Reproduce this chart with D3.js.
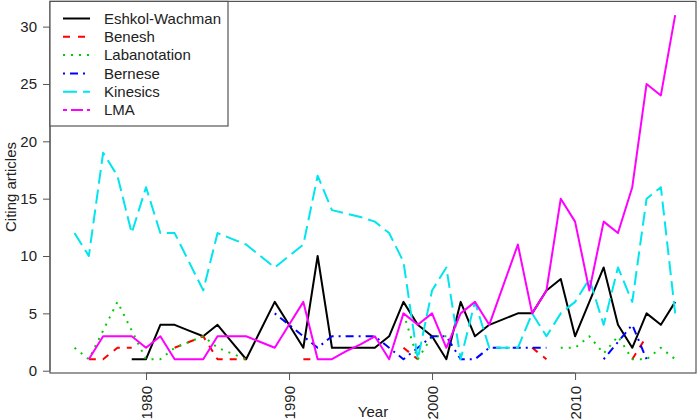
<!DOCTYPE html>
<html>
<head>
<meta charset="utf-8">
<script src="https://cdn.jsdelivr.net/npm/d3@7"></script>
<style>
  html, body { margin: 0; padding: 0; background: #fff; }
  svg { display: block; }
  text { font-family: "Liberation Sans", Arial, sans-serif; fill: #222; }
</style>
</head>
<body>
<svg id="chart" width="700" height="420"></svg>
<script>
const years = [1975,1976,1977,1978,1979,1980,1981,1982,1983,1984,1985,1986,1987,1988,1989,1990,1991,1992,1993,1994,1995,1996,1997,1998,1999,2000,2001,2002,2003,2004,2005,2006,2007,2008,2009,2010,2011,2012,2013,2014,2015,2016,2017];

const eshkolWachman = [null,null,null,null,1,1,4,4,3.5,3,4,2.5,1,3.5,6,4,2,10,2,2,2,2,3,6,4,3,1,6,3,4,4.5,5,5,7,8,3,6,9,4,2,5,4,6];
const benesh        = [null,1,1,2,2,null,null,2,2.5,3,1,1,1,null,null,null,1,1,null,null,null,null,null,2,1,null,null,null,null,null,null,null,2,1,null,null,null,null,null,1,3,null,null];
const labanotation  = [2,1,3.5,6,3.5,1,1,2,2.5,3,2,1.5,1,null,null,null,null,null,null,null,null,null,null,5,1,3,3,null,null,null,null,null,null,null,2,2,3,1.5,3,1,1,2,1];
const bernese       = [null,null,null,null,null,null,null,null,null,null,null,null,null,null,5,4,3,2,3,3,3,3,2,1,2,3,3,1,1,2,2,2,2,2,null,null,null,1,2.5,4,1,null,null];
const kinesics      = [12,10,19,17,12,16,12,12,9.5,7,12,11.5,11,10,9,10,11,17,14,13.7,13.4,13,12,9.5,1,7,9,1,6,2,2,2,5,3,5,6,8,4,9,6,15,16,5];
const lma           = [null,1,3,3,3,2,3,1,1,1,3,3,3,2.5,2,4,6,1,1,1.7,2.3,3,1,5,4,5,2,5,6,4,7.5,11,5,7,15,13,7,13,12,16,25,24,31];

const seriesNames = ["Eshkol-Wachman","Benesh","Labanotation","Bernese","Kinesics","LMA"];
const xTicks = [1980,1990,2000,2010];
const yTicks = [0,5,10,15,20,25,30];

const seriesData = [eshkolWachman, benesh, labanotation, bernese, kinesics, lma];
const colors = ["#000000","#ff0000","#00cd00","#0000ff","#00e5ee","#ff00ff"];
const plotDash = [null,"7,7","2,6","2,5,8,5","14,6",null];
const legendDash = [null,"7,8","2,6","2,5,8,5","14,6","4,4,12,4"];

const svg = d3.select("#chart");
const box = {left: 50, right: 696, top: 1.4, bottom: 373};

const x = d3.scaleLinear().domain([1973.32, 2018.68]).range([50.5, 699.2]);
const y = d3.scaleLinear().domain([-0.2, 32.2]).range([box.bottom, box.top]);

const axisColor = "#555";

// lines
const line = d3.line()
  .defined(d => d.v != null)
  .x(d => x(d.year))
  .y(d => y(d.v));

const clip = svg.append("clipPath").attr("id","clip").append("rect")
  .attr("x", box.left).attr("y", box.top).attr("width", box.right-box.left).attr("height", box.bottom-box.top);

const g = svg.append("g").attr("clip-path","url(#clip)");
seriesData.forEach((arr, i) => {
  const pts = years.map((yr, j) => ({year: yr, v: arr[j]}));
  g.append("path")
    .datum(pts)
    .attr("d", line)
    .attr("fill","none")
    .attr("stroke", colors[i])
    .attr("stroke-width", 2)
    .attr("stroke-dasharray", plotDash[i])
    .attr("stroke-linejoin","round");
});

// box
svg.append("rect")
  .attr("x", box.left).attr("y", box.top)
  .attr("width", box.right-box.left).attr("height", box.bottom-box.top)
  .attr("fill","none").attr("stroke", axisColor).attr("stroke-width",1.2);

// y axis
const yAxis = svg.append("g").attr("transform", `translate(${box.left},0)`)
  .call(d3.axisLeft(y).tickValues(yTicks).tickSize(7).tickPadding(6).tickFormat(d3.format("d")));
yAxis.select(".domain").remove();
yAxis.selectAll(".tick line").attr("stroke", axisColor);
yAxis.selectAll(".tick text").style("font-size","15px").style("font-family","'Liberation Sans', Arial, sans-serif").attr("fill","#222");
yAxis.append("line").attr("x1",0).attr("x2",0).attr("y1",y(0)).attr("y2",y(30)).attr("stroke",axisColor);

// x axis
const xAxis = svg.append("g").attr("transform", `translate(0,${box.bottom})`)
  .call(d3.axisBottom(x).tickValues(xTicks).tickSize(7).tickFormat(""));
xAxis.select(".domain").remove();
xAxis.selectAll(".tick line").attr("stroke", axisColor);
xAxis.append("line").attr("x1",x(1980)).attr("x2",x(2010)).attr("y1",0).attr("y2",0).attr("stroke",axisColor);
xAxis.selectAll(".tick").append("text")
  .attr("transform","rotate(-90)")
  .attr("x", -13).attr("y", 0).attr("dy","0.35em")
  .attr("text-anchor","end")
  .style("font-size","15px")
  .attr("fill","#222")
  .text(d => d);

// axis titles
svg.append("text").attr("x", (box.left+box.right)/2).attr("y", 417)
  .attr("text-anchor","middle").style("font-size","15px").text("Year");
svg.append("text").attr("transform","translate(16,187) rotate(-90)")
  .attr("text-anchor","middle").style("font-size","15px").text("Citing articles");

// legend
const lg = svg.append("g");
lg.append("rect").attr("x",50).attr("y",box.top).attr("width",178).attr("height",126-box.top)
  .attr("fill","#fff").attr("stroke",axisColor).attr("stroke-width",1.2);
seriesNames.forEach((name, i) => {
  const ly = 18.5 + i*18.3;
  lg.append("line").attr("x1",63).attr("x2",90).attr("y1",ly).attr("y2",ly)
    .attr("stroke",colors[i]).attr("stroke-width",2).attr("stroke-dasharray",legendDash[i]);
  lg.append("text").attr("x",104).attr("y",ly).attr("dy","0.35em")
    .style("font-size","15px").text(name);
});
</script>
</body>
</html>
